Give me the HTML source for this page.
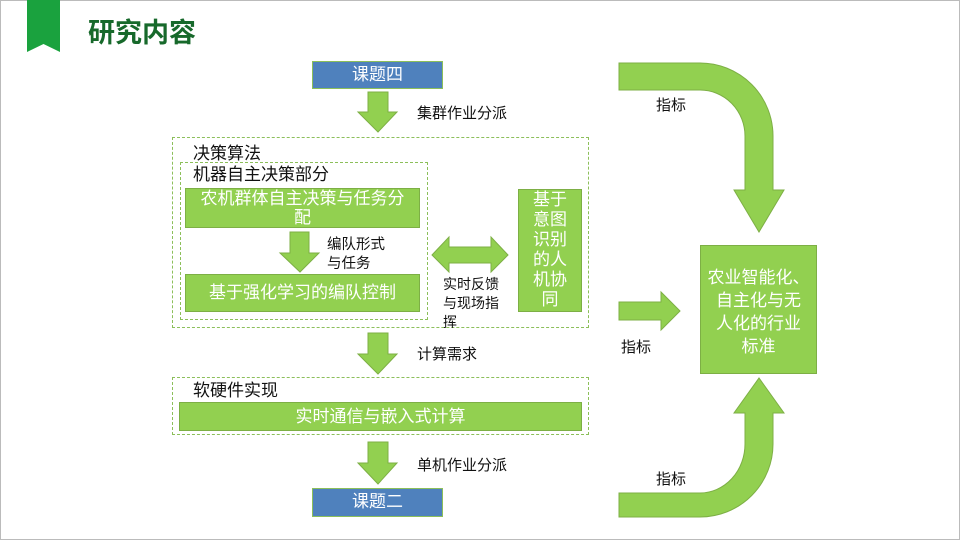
<!DOCTYPE html>
<html><head><meta charset="utf-8"><style>
body{margin:0;width:960px;height:540px;overflow:hidden;background:#fff;font-family:"Liberation Sans","Noto Sans CJK SC",sans-serif;}
.a{position:absolute;}
.lbl{position:absolute;font-size:15px;color:#111;line-height:19px;white-space:nowrap;}
.g{position:absolute;background:#92d050;border:1px solid #7daf45;box-sizing:border-box;color:#fff;text-align:center;font-size:17px;line-height:20px;}
.b{position:absolute;background:#4f81bd;border:1.5px solid #8cbf5a;box-sizing:border-box;color:#fff;text-align:center;font-size:17px;}
.d{position:absolute;border:1.3px dashed #8cbf5a;box-sizing:border-box;}
</style></head><body>
<div class="a" style="left:0;top:0;width:958px;height:538px;border:1px solid #bbb;"></div>
<svg class="a" style="left:0;top:0" width="960" height="540">
<polygon points="27,0 60,0 60,52 43.5,44 27,52" fill="#1aa23e"/>
<path d="M619,63 L700,63 A73,73 0 0 1 773,136 L773,190 L784,190 L759,232 L734,190 L745,190 L745,136 A45,46 0 0 0 700,90 L619,90 Z" fill="#92d050" stroke="#7daf45" stroke-width="1"/>
<path d="M619,517 L700,517 A73,73 0 0 0 773,444 L773,413 L784,413 L759,378 L734,413 L745,413 L745,444 A45,49 0 0 1 700,493 L619,493 Z" fill="#92d050" stroke="#7daf45" stroke-width="1"/>
<polygon points="619,302 661,302 661,292 680,311 661,330 661,320 619,320" fill="#92d050" stroke="#7daf45"/>
<polygon points="368,92 388,92 388,112 397,112 378,132 358,112 368,112" fill="#92d050" stroke="#7daf45"/>
<polygon points="368,333 388,333 388,354 397,354 378,374 358,354 368,354" fill="#92d050" stroke="#7daf45"/>
<polygon points="368,442 388,442 388,463 397,463 378,484 358,463 368,463" fill="#92d050" stroke="#7daf45"/>
<polygon points="290,232 309,232 309,253 319,253 300,272 280,253 290,253" fill="#92d050" stroke="#7daf45"/>
<polygon points="432,255 449,237 449,247 491,247 491,237 508,255 491,272 491,263 449,263 449,272" fill="#92d050" stroke="#7daf45"/>
</svg>
<div class="a" style="left:88px;top:11px;font-size:27px;font-weight:bold;color:#17692b;">研究内容</div>
<div class="b" style="left:312px;top:61px;width:131px;height:28px;line-height:25px;">课题四</div>
<div class="b" style="left:312px;top:488px;width:131px;height:29px;line-height:26px;">课题二</div>
<div class="lbl" style="left:417px;top:104px;">集群作业分派</div>
<div class="lbl" style="left:417px;top:345px;">计算需求</div>
<div class="lbl" style="left:417px;top:456px;">单机作业分派</div>
<div class="lbl" style="left:656px;top:96px;">指标</div>
<div class="lbl" style="left:621px;top:338px;">指标</div>
<div class="lbl" style="left:656px;top:470px;">指标</div>
<div class="d" style="left:172px;top:137px;width:417px;height:191px;"></div>
<div class="d" style="left:180px;top:162px;width:248px;height:158px;"></div>
<div class="lbl" style="left:193px;top:144px;font-size:17px;">决策算法</div>
<div class="lbl" style="left:193px;top:165px;font-size:17px;">机器自主决策部分</div>
<div class="g" style="left:185px;top:188px;width:235px;height:40px;line-height:19px;">农机群体自主决策与任务分<br>配</div>
<div class="lbl" style="left:327px;top:236px;font-size:14.5px;">编队形式<br>与任务</div>
<div class="g" style="left:185px;top:274px;width:235px;height:38px;line-height:36px;">基于强化学习的编队控制</div>
<div class="lbl" style="left:443px;top:275px;font-size:14px;line-height:19px;">实时反馈<br>与现场指<br>挥</div>
<div class="g" style="left:518px;top:189px;width:64px;height:123px;line-height:20px;">基于<br>意图<br>识别<br>的人<br>机协<br>同</div>
<div class="d" style="left:172px;top:377px;width:417px;height:58px;"></div>
<div class="lbl" style="left:193px;top:381px;font-size:17px;">软硬件实现</div>
<div class="g" style="left:179px;top:402px;width:403px;height:29px;line-height:27px;">实时通信与嵌入式计算</div>
<div class="g" style="left:700px;top:245px;width:117px;height:129px;line-height:23px;padding-top:20px;">农业智能化、<br>自主化与无<br>人化的行业<br>标准</div>
</body></html>
